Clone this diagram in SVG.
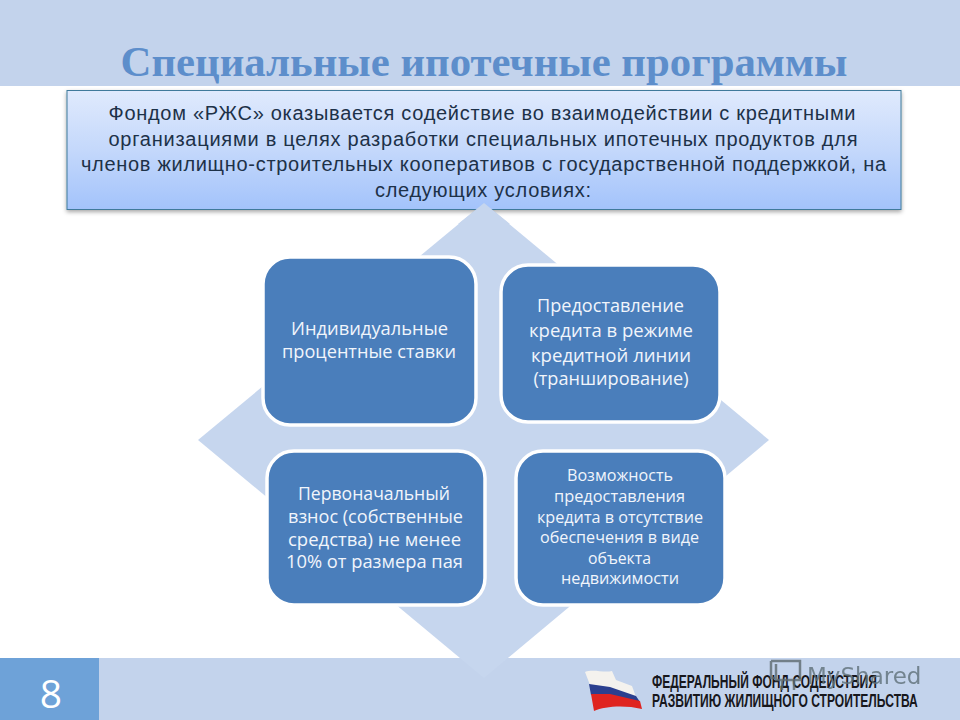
<svg xmlns="http://www.w3.org/2000/svg" width="960" height="720" viewBox="0 0 960 720">
<style>
.n{font-family:"Open Sans","Noto Sans","DejaVu Sans",sans-serif;fill:#f1f5fb;text-anchor:middle;font-weight:500;font-size:18px}
.m{font-family:"Open Sans","Noto Sans","DejaVu Sans",sans-serif;fill:#f1f5fb;text-anchor:middle;font-weight:500;font-size:16px}
.b{fill:#4a7ebb;stroke:#fff;stroke-width:3.500}
.i{font-family:"Liberation Sans",Arial,sans-serif;font-size:20px;fill:#1d3148;text-anchor:middle}
.l{font-family:"Liberation Sans",sans-serif;font-weight:700;font-size:18px;fill:#17171c}
</style>
<defs>
<linearGradient id="g" x1="0" y1="0" x2="0" y2="1"><stop offset="0" stop-color="#e0eafd"/><stop offset="0.5" stop-color="#c4d8fb"/><stop offset="1" stop-color="#a3c3fb"/></linearGradient>
<filter id="s" x="-5%" y="-10%" width="110%" height="125%"><feDropShadow dx="0" dy="2" stdDeviation="2" flood-color="#000" flood-opacity="0.35"/></filter>
</defs>
<rect width="960" height="720" fill="#fff"/>
<rect width="960" height="86" fill="#c3d3ec"/>
<rect y="658" width="960" height="62" fill="#c3d3ec"/>
<rect y="658" width="99" height="62" fill="#6ea2d8"/>
<text x="51" y="708" font-family="Open Sans,Noto Sans,sans-serif" font-size="39" fill="#fff" text-anchor="middle">8</text>
<text id="title" x="484" y="76" font-family="Liberation Serif,Times New Roman,serif" font-weight="700" font-size="43" fill="#5d8ecb" text-anchor="middle" textLength="727" lengthAdjust="spacingAndGlyphs">Специальные ипотечные программы</text>
<g id="diamond"><polygon points="484,203 769,440 484,678 198,440" fill="#c6d6ee"/></g>
<g id="intro">
<rect x="67" y="90.500" width="834" height="119" fill="url(#g)" stroke="#3f7a9b" stroke-width="1" filter="url(#s)"/>
<text class="i" x="482" y="120" textLength="747" lengthAdjust="spacing">Фондом «РЖС» оказывается содействие во взаимодействии с кредитными</text>
<text class="i" x="483" y="146" textLength="749" lengthAdjust="spacing">организациями  в целях разработки специальных ипотечных продуктов для</text>
<text class="i" x="483.500" y="171" textLength="805" lengthAdjust="spacing">членов жилищно-строительных кооперативов с государственной поддержкой, на</text>
<text class="i" x="483" y="197" textLength="216" lengthAdjust="spacing">следующих условиях:</text>
</g>
<polygon points="484,203 510,224 458,224" fill="#c6d6ee"/>
<g id="node1"><rect class="b" x="263" y="257" width="213" height="168" rx="27"/>
<text class="n" x="369.500" y="335" textLength="157" lengthAdjust="spacingAndGlyphs">Индивидуальные</text><text class="n" x="369" y="358" textLength="174" lengthAdjust="spacingAndGlyphs">процентные ставки</text></g>
<g id="node2"><rect class="b" x="501" y="265" width="219" height="157" rx="27"/>
<text class="n" x="610.500" y="312" textLength="147" lengthAdjust="spacingAndGlyphs">Предоставление</text><text class="n" x="611" y="337" textLength="164" lengthAdjust="spacingAndGlyphs">кредита в режиме</text><text class="n" x="611" y="362" textLength="160" lengthAdjust="spacingAndGlyphs">кредитной линии</text><text class="n" x="611" y="385" textLength="155" lengthAdjust="spacingAndGlyphs">(транширование)</text></g>
<g id="node3"><rect class="b" x="267" y="451" width="218" height="154" rx="27"/>
<text class="n" x="374" y="500" textLength="152" lengthAdjust="spacingAndGlyphs">Первоначальный</text><text class="n" x="375.500" y="523" textLength="175" lengthAdjust="spacingAndGlyphs">взнос (собственные</text><text class="n" x="374.500" y="546" textLength="173" lengthAdjust="spacingAndGlyphs">средства) не менее</text><text class="n" x="374.500" y="568" textLength="177" lengthAdjust="spacingAndGlyphs">10% от размера пая</text></g>
<g id="node4"><rect class="b" x="516" y="451" width="209" height="154" rx="27"/>
<text class="m" x="620" y="481" textLength="106" lengthAdjust="spacingAndGlyphs">Возможность</text><text class="m" x="619.500" y="502" textLength="131" lengthAdjust="spacingAndGlyphs">предоставления</text><text class="m" x="620" y="523" textLength="166" lengthAdjust="spacingAndGlyphs">кредита в отсутствие</text><text class="m" x="619.500" y="543" textLength="159" lengthAdjust="spacingAndGlyphs">обеспечения в виде</text><text class="m" x="619.500" y="564" textLength="63" lengthAdjust="spacingAndGlyphs">объекта</text><text class="m" x="620" y="584" textLength="118" lengthAdjust="spacingAndGlyphs">недвижимости</text></g>
<g id="logo">
<path d="M585,672 C593,669 604,673 612,671 L616,680 L632,686 L636,697 L610,688 L590,685Z" fill="#f4f2ee"/>
<path d="M589,684 L610,687 L636,696 L640,702 L610,695 L591,695Z" fill="#2b3f8f"/>
<path d="M591,694 L610,694 L640,701 L642,709 C625,705 605,706 594,711Z" fill="#df2420"/>
<text class="l" transform="translate(652,688) scale(0.65,1)" textLength="346" lengthAdjust="spacingAndGlyphs">ФЕДЕРАЛЬНЫЙ ФОНД СОДЕЙСТВИЯ</text>
<text class="l" transform="translate(652,707) scale(0.65,1)" textLength="409" lengthAdjust="spacingAndGlyphs">РАЗВИТИЮ ЖИЛИЩНОГО СТРОИТЕЛЬСТВА</text>
</g>
<g id="watermark" opacity="0.8">
<path d="M771,661 H800 V680 H776 V664 M771,661 V678 H776 M782,690 V680 M794,690 V680" fill="none" stroke="#5f6b70" stroke-width="2.500"/>
<text x="807" y="684" font-family="DejaVu Sans,sans-serif" font-size="23" fill="#5f7078">MyShared</text>
</g>
</svg>
